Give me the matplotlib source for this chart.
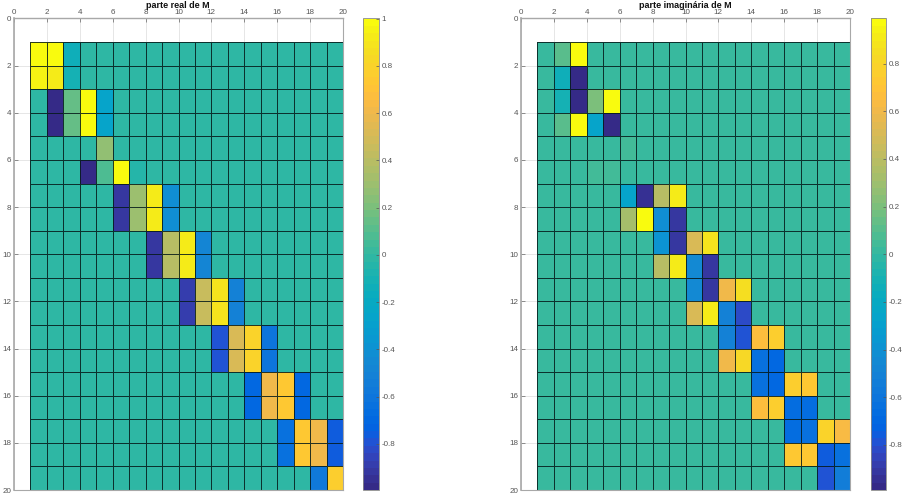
#mapas de cor das partes real e imaginaria de M

import numpy as np
import matplotlib
matplotlib.use('Agg')
import matplotlib.pyplot as plt
from matplotlib.colors import ListedColormap, Normalize
from matplotlib.cm import ScalarMappable

plt.rcParams['font.family'] = ['Liberation Sans', 'DejaVu Sans']

#tabela parula (64 niveis)
parula = ListedColormap([
    [0.2081,0.1663,0.5292],[0.2116,0.1898,0.5777],[0.2123,0.2138,0.6270],[0.2081,0.2386,0.6771],
    [0.1959,0.2645,0.7279],[0.1707,0.2919,0.7792],[0.1253,0.3242,0.8303],[0.0591,0.3598,0.8683],
    [0.0117,0.3875,0.8820],[0.0060,0.4086,0.8828],[0.0165,0.4266,0.8786],[0.0329,0.4430,0.8720],
    [0.0498,0.4586,0.8641],[0.0629,0.4737,0.8554],[0.0723,0.4887,0.8467],[0.0779,0.5040,0.8384],
    [0.0793,0.5200,0.8312],[0.0749,0.5375,0.8263],[0.0641,0.5570,0.8240],[0.0488,0.5772,0.8228],
    [0.0343,0.5966,0.8199],[0.0265,0.6137,0.8135],[0.0239,0.6287,0.8038],[0.0231,0.6418,0.7913],
    [0.0228,0.6535,0.7768],[0.0267,0.6642,0.7607],[0.0384,0.6743,0.7436],[0.0590,0.6838,0.7254],
    [0.0843,0.6928,0.7062],[0.1133,0.7015,0.6859],[0.1453,0.7098,0.6646],[0.1801,0.7177,0.6424],
    [0.2178,0.7250,0.6193],[0.2586,0.7317,0.5954],[0.3022,0.7376,0.5712],[0.3482,0.7424,0.5473],
    [0.3953,0.7459,0.5244],[0.4420,0.7481,0.5033],[0.4871,0.7491,0.4840],[0.5300,0.7491,0.4661],
    [0.5709,0.7485,0.4494],[0.6099,0.7473,0.4337],[0.6473,0.7456,0.4188],[0.6834,0.7435,0.4044],
    [0.7184,0.7411,0.3905],[0.7525,0.7384,0.3768],[0.7858,0.7356,0.3633],[0.8185,0.7327,0.3498],
    [0.8507,0.7299,0.3360],[0.8824,0.7274,0.3217],[0.9139,0.7258,0.3063],[0.9450,0.7261,0.2886],
    [0.9739,0.7314,0.2666],[0.9938,0.7455,0.2403],[0.9990,0.7653,0.2164],[0.9955,0.7861,0.1967],
    [0.9880,0.8066,0.1794],[0.9789,0.8271,0.1633],[0.9697,0.8481,0.1475],[0.9626,0.8705,0.1309],
    [0.9589,0.8949,0.1132],[0.9598,0.9218,0.0948],[0.9661,0.9514,0.0755],[0.9763,0.9831,0.0538]])

#DADOS: para cada linha (1 a 19), coluna inicial e valores nao nulos
inicio_real = [1, 1, 2, 2, 5, 4, 6, 6, 8, 8, 10, 10, 12, 12, 14, 14, 16, 16, 18]
valores_real = [
    [1.0, 0.97, -0.13],
    [0.96, 0.93, -0.10],
    [-0.97, 0.15, 1.0, -0.27],
    [-0.97, 0.14, 0.98, -0.27],
    [0.28],
    [-0.97, 0.07, 1.0, -0.03],
    [-0.93, 0.30, 0.93, -0.42],
    [-0.93, 0.30, 0.93, -0.42],
    [-0.92, 0.38, 0.92, -0.47],
    [-0.92, 0.38, 0.92, -0.47],
    [-0.88, 0.45, 0.88, -0.52],
    [-0.88, 0.45, 0.88, -0.52],
    [-0.80, 0.52, 0.80, -0.62],
    [-0.80, 0.52, 0.80, -0.62],
    [-0.70, 0.62, 0.72, -0.70],
    [-0.70, 0.62, 0.72, -0.70],
    [-0.65, 0.72, 0.62, -0.76],
    [-0.65, 0.72, 0.62, -0.76],
    [-0.58, 0.78],
]

inicio_imag = [2, 2, 2, 2, 5, 4, 6, 6, 8, 8, 10, 10, 12, 12, 14, 14, 16, 16, 18]
valores_imag = [
    [0.10, 0.98],
    [-0.13, -0.97],
    [-0.12, -0.96, 0.20, 0.98],
    [0.10, 0.98, -0.25, -0.96],
    [0.03, 0.05],
    [0.04, 0.04],
    [-0.27, -0.95, 0.40, 0.90],
    [0.33, 0.96, -0.42, -0.92],
    [-0.40, -0.92, 0.50, 0.87],
    [0.38, 0.92, -0.45, -0.90],
    [-0.45, -0.90, 0.60, 0.85],
    [0.50, 0.90, -0.52, -0.82],
    [-0.52, -0.80, 0.68, 0.76],
    [0.60, 0.82, -0.62, -0.70],
    [-0.62, -0.70, 0.75, 0.72],
    [0.66, 0.76, -0.65, -0.65],
    [-0.66, -0.63, 0.78, 0.62],
    [0.72, 0.72, -0.75, -0.62],
    [-0.78, -0.55],
]

ticks_eixo = list(range(0, 21, 2))
ticks_real = [-0.8, -0.6, -0.4, -0.2, 0, 0.2, 0.4, 0.6, 0.8, 1]
ticks_imag = [-0.8, -0.6, -0.4, -0.2, 0, 0.2, 0.4, 0.6, 0.8]

LARG, ALT = 904, 494
CINZA = '#a8a8a8'
TEXTO = '#555555'


def monta_matriz(inicio, valores):
    M = np.zeros((19, 19))
    for i, (c, v) in enumerate(zip(inicio, valores)):
        M[i, c - 1:c - 1 + len(v)] = v
    return M


def caixa(x0, x1, y0, y1):
    #pixels para fracao da figura
    return [x0 / LARG, 1 - y1 / ALT, (x1 - x0) / LARG, (y1 - y0) / ALT]


def painel(fig, M, titulo, lim, ticks, px_ax, px_cb, x_titulo):
    ax = fig.add_axes(caixa(px_ax[0], px_ax[1], 18.5, 490))
    cax = fig.add_axes(caixa(px_cb[0], px_cb[1], 18.5, 490))
    grade = np.arange(1, 21)
    ax.pcolormesh(grade, grade, M, cmap=parula, vmin=lim[0], vmax=lim[1],
                  edgecolors=(0.02, 0.1, 0.1, 0.85), linewidth=0.6, zorder=2)
    ax.set_xlim(0, 20)
    ax.set_ylim(20, 0)
    ax.set_xticks(ticks_eixo)
    ax.set_yticks(ticks_eixo)
    ax.xaxis.tick_top()
    ax.grid(True, color='#e6e6e6', linewidth=0.7, zorder=0)
    ax.set_axisbelow(True)
    ax.tick_params(direction='in', length=3, width=0.5, color='#666666',
                   labelsize=5.8, labelcolor=TEXTO, pad=2)
    for s in ax.spines.values():
        s.set_color(CINZA)
        s.set_linewidth(0.8)
    ax.spines['top'].set_linewidth(1.0)
    ax.spines['left'].set_linewidth(1.2)
    fig.text(x_titulo / LARG, 1 - 5.5 / ALT, titulo, ha='center', va='center',
             fontsize=6.5, fontweight='bold', color='#111111')

    sm = ScalarMappable(norm=Normalize(lim[0], lim[1]), cmap=parula)
    cb = fig.colorbar(sm, cax=cax, ticks=ticks)
    cb.ax.set_yticklabels(['%g' % t for t in ticks])
    cb.ax.tick_params(direction='in', length=2, width=0.5, color='#555555',
                      labelsize=5.8, labelcolor=TEXTO, pad=2)
    cb.outline.set_edgecolor('#888888')
    cb.outline.set_linewidth(0.6)


if __name__ == '__main__':
    M_real = monta_matriz(inicio_real, valores_real)
    M_imag = monta_matriz(inicio_imag, valores_imag)

    fig = plt.figure(figsize=(LARG / 100, ALT / 100), dpi=100)
    painel(fig, M_real, 'parte real de M', (-0.995, 1.0), ticks_real,
           (14, 343), (363, 379), 178)
    painel(fig, M_imag, 'parte imaginária de M', (-0.99, 0.99), ticks_imag,
           (521, 850), (871, 886), 685)
    fig.savefig('out.png', dpi=100)
